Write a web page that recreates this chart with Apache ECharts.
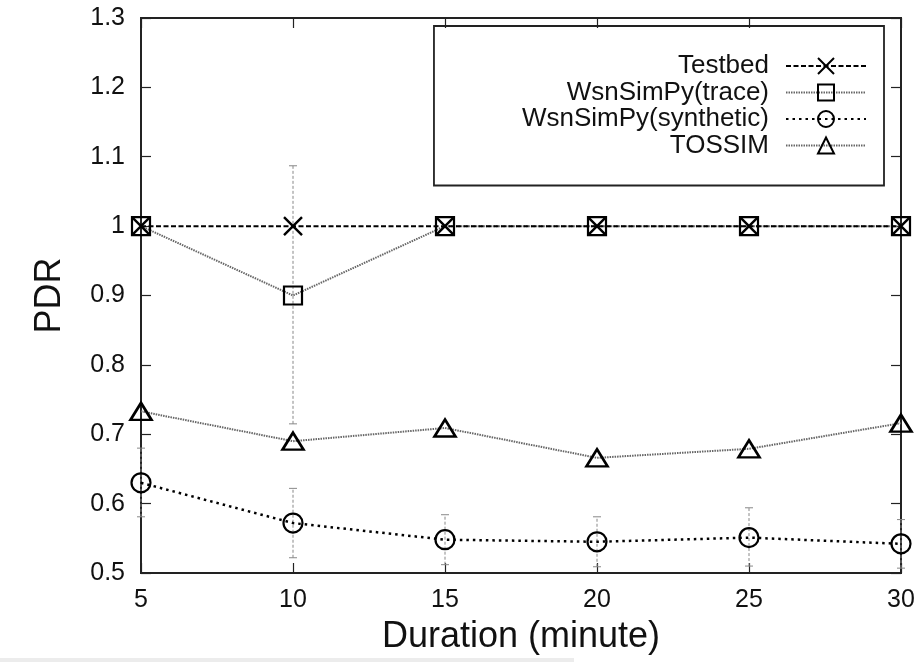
<!DOCTYPE html>
<html>
<head>
<meta charset="utf-8">
<script src="https://cdn.jsdelivr.net/npm/echarts@6/dist/echarts.min.js"></script>
<style>
  html, body { margin: 0; padding: 0; background: #fff; }
  #main { width: 923px; height: 662px; }
</style>
</head>
<body>
<div id="main"></div>
<script>
// durations (minute)
var durations = [5, 10, 15, 20, 25, 30];
// PDR per series
var testbed = [1, 1, 1, 1, 1, 1];
var trace = [1, 0.9, 1, 1, 1, 1];
var synthetic = [0.630, 0.572, 0.548, 0.545, 0.551, 0.542];
var tossim = [0.733, 0.690, 0.709, 0.666, 0.679, 0.716];
// error bars [low, high]
var traceErr = [[1, 1], [0.715, 1.087], [1, 1], [1, 1], [1, 1], [1, 1]];
var syntheticErr = [[0.581, 0.680], [0.522, 0.622], [0.512, 0.584], [0.509, 0.581], [0.510, 0.594], [0.507, 0.577]];

var FONT = 'Liberation Sans';

function pairs(ys) {
  return durations.map(function (x, i) { return [x, ys[i]]; });
}
function errData(errs) {
  return durations.map(function (x, i) { return [x, errs[i][0], errs[i][1]]; });
}

function renderErr(params, api) {
  var x = api.value(0);
  var lo = api.coord([x, api.value(1)]);
  var hi = api.coord([x, api.value(2)]);
  if (Math.abs(hi[1] - lo[1]) < 1) return;
  var w = 4;
  var st = { stroke: '#888', lineWidth: 1, lineDash: [3, 2] };
  var st2 = { stroke: '#888', lineWidth: 1 };
  return {
    type: 'group',
    children: [
      { type: 'line', shape: { x1: lo[0], y1: lo[1], x2: hi[0], y2: hi[1] }, style: st },
      { type: 'line', shape: { x1: lo[0] - w, y1: lo[1], x2: lo[0] + w, y2: lo[1] }, style: st2 },
      { type: 'line', shape: { x1: hi[0] - w, y1: hi[1], x2: hi[0] + w, y2: hi[1] }, style: st2 }
    ]
  };
}

var chart = echarts.init(document.getElementById('main'));

var axisLineStyle = { color: '#222', width: 1.8 };
var tickStyle = { show: true, inside: true, length: 10, lineStyle: { color: '#222', width: 1.2 } };

var option = {
  backgroundColor: '#fff',
  animation: false,
  textStyle: { fontFamily: FONT },
  grid: {
    left: 141, right: 22, top: 18, bottom: 89,
    show: true, borderColor: '#222', borderWidth: 1.8, backgroundColor: 'transparent'
  },
  legend: {
    orient: 'vertical',
    align: 'right',
    right: 39,
    top: 26,
    padding: [27, 17, 27, 88],
    borderColor: '#222',
    borderWidth: 1.8,
    itemWidth: 80,
    itemHeight: 20,
    itemGap: 0.5,
    textStyle: { fontFamily: FONT, fontSize: 26, lineHeight: 26, color: '#111', padding: [0, 12, 0, 0] },
    data: ['Testbed', 'WsnSimPy(trace)', 'WsnSimPy(synthetic)', 'TOSSIM']
  },
  xAxis: [{
    type: 'value', min: 5, max: 30, interval: 5,
    name: 'Duration (minute)', nameLocation: 'middle', nameGap: 46,
    nameTextStyle: { fontFamily: FONT, fontSize: 36, color: '#111' },
    axisLine: { lineStyle: axisLineStyle },
    axisTick: tickStyle,
    axisLabel: { fontFamily: FONT, fontSize: 25, color: '#111', margin: 15 },
    splitLine: { show: false }
  }, {
    type: 'value', min: 5, max: 30, interval: 5, position: 'top',
    axisLine: { lineStyle: axisLineStyle },
    axisTick: tickStyle,
    axisLabel: { show: false },
    splitLine: { show: false }
  }],
  yAxis: [{
    type: 'value', min: 0.5, max: 1.3, interval: 0.1,
    name: 'PDR', nameLocation: 'middle', nameGap: 73, nameRotate: 90,
    nameTextStyle: { fontFamily: FONT, fontSize: 36, color: '#111' },
    axisLine: { show: true, lineStyle: axisLineStyle },
    axisTick: tickStyle,
    axisLabel: { fontFamily: FONT, fontSize: 25, color: '#111', margin: 16 },
    splitLine: { show: false }
  }, {
    type: 'value', min: 0.5, max: 1.3, interval: 0.1, position: 'right',
    axisLine: { show: true, lineStyle: axisLineStyle },
    axisTick: tickStyle,
    axisLabel: { show: false },
    splitLine: { show: false }
  }],
  series: [
    {
      type: 'custom', name: 'errTrace', renderItem: renderErr,
      data: errData(traceErr), z: 1, silent: true,
      encode: { x: 0, y: [1, 2] }
    },
    {
      type: 'custom', name: 'errSynthetic', renderItem: renderErr,
      data: errData(syntheticErr), z: 1, silent: true,
      encode: { x: 0, y: [1, 2] }
    },
    {
      name: 'WsnSimPy(trace)', type: 'line', data: pairs(trace), z: 3,
      symbol: 'rect', symbolSize: 18,
      itemStyle: { color: 'transparent', borderColor: '#000', borderWidth: 2.2 },
      lineStyle: { color: '#666', width: 2, type: [1.5, 1] }
    },
    {
      name: 'Testbed', type: 'line', data: pairs(testbed), z: 4,
      symbol: 'path://M0,0L10,10M10,0L0,10', symbolSize: 18,
      itemStyle: { color: 'transparent', borderColor: '#000', borderWidth: 2.4 },
      lineStyle: { color: '#000', width: 2, type: [5, 2.5] }
    },
    {
      name: 'WsnSimPy(synthetic)', type: 'line', data: pairs(synthetic), z: 3,
      symbol: 'circle', symbolSize: 19,
      itemStyle: { color: 'transparent', borderColor: '#000', borderWidth: 2.2 },
      lineStyle: { color: '#000', width: 2.5, type: [2.5, 4] }
    },
    {
      name: 'TOSSIM', type: 'line', data: pairs(tossim), z: 3,
      symbol: 'triangle', symbolSize: [21, 17],
      itemStyle: { color: 'transparent', borderColor: '#000', borderWidth: 2.6 },
      lineStyle: { color: '#666', width: 2, type: [1.5, 1] }
    }
  ],
  graphic: [{
    type: 'rect', left: 0, bottom: 0, silent: true,
    shape: { width: 574, height: 4 },
    style: { fill: '#ececec' }
  }]
};

chart.setOption(option);
</script>
</body>
</html>
